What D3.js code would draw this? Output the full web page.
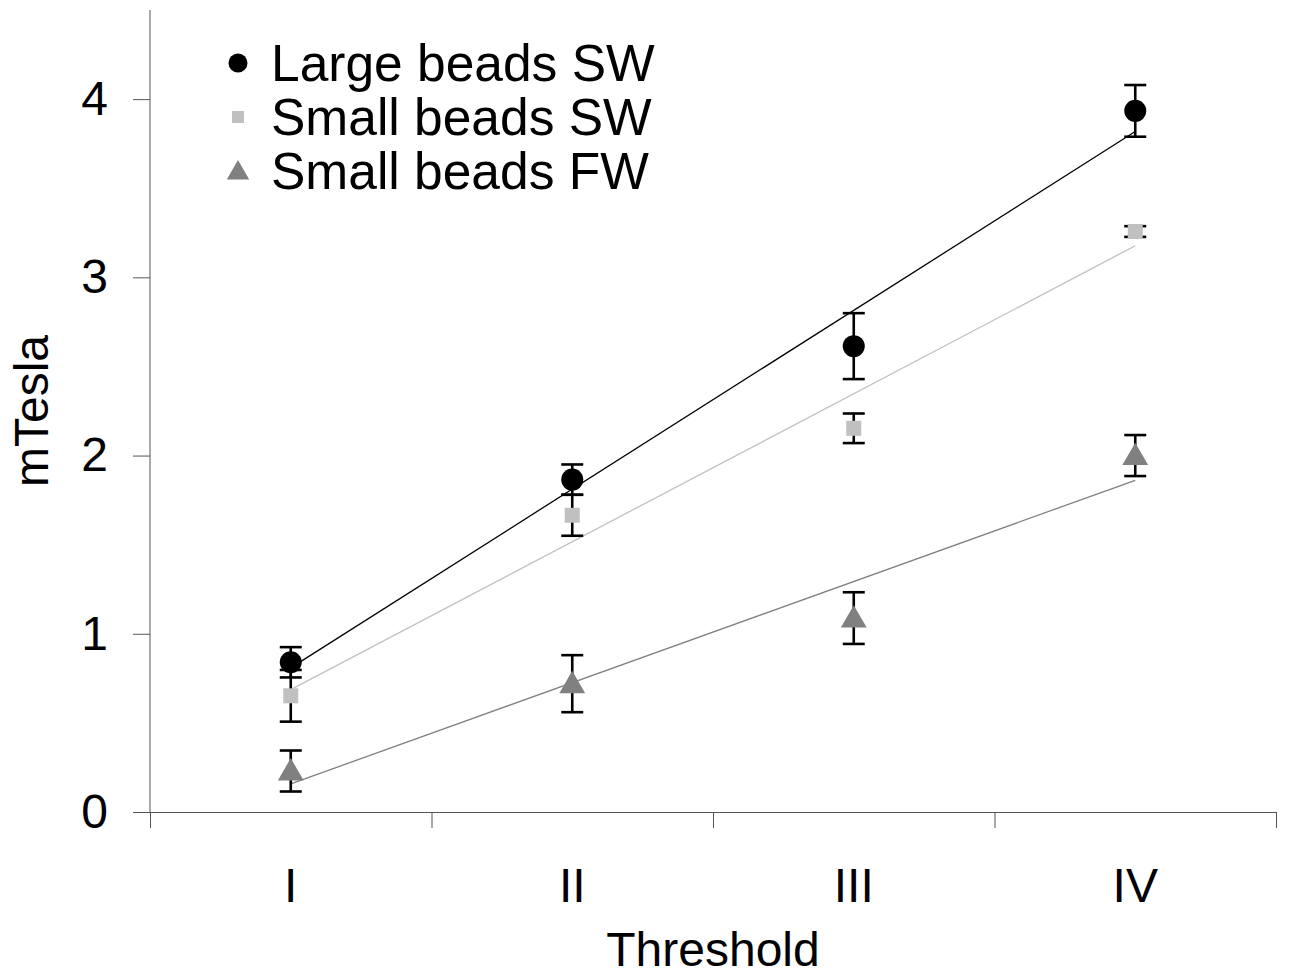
<!DOCTYPE html>
<html>
<head>
<meta charset="utf-8">
<script src="https://cdn.jsdelivr.net/npm/d3@7"></script>
<style>
  body { margin: 0; background: #fff; }
  text { font-family: "Liberation Sans", Arial, sans-serif; }
</style>
</head>
<body>
<div id="d3-container"></div>
<script>
// data
const thresholds = ["I", "II", "III", "IV"];
const seriesNames = ["Large beads SW", "Small beads SW", "Small beads FW"];
const largeSW = [0.84, 1.865, 2.614, 3.934];
const largeSWErr = [0.085, 0.085, 0.185, 0.145];
const smallSW = [0.652, 1.665, 2.153, 3.257];
const smallSWErr = [0.145, 0.115, 0.083, 0.03];
const smallFW = [0.23, 0.72, 1.088, 2.0];
const smallFWErr = [0.115, 0.16, 0.145, 0.115];
const yTicks = [0, 1, 2, 3, 4];

const width = 1290;
const height = 979;
const margin = { top: 10, bottom: 167, left: 150, right: 14 };

const series = [
  { name: seriesNames[0], values: largeSW, err: largeSWErr, shape: "circle", fill: "#000000", line: "#000000" },
  { name: seriesNames[1], values: smallSW, err: smallSWErr, shape: "square", fill: "#c0c0c0", line: "#c0c0c0" },
  { name: seriesNames[2], values: smallFW, err: smallFWErr, shape: "triangle", fill: "#808080", line: "#808080" }
];

const svg = d3.select('#d3-container')
  .append('svg')
  .attr('width', width)
  .attr('height', height)
  .attr("viewBox", [0, 0, width, height]);

const x = d3.scaleBand()
  .domain(thresholds)
  .range([margin.left, width - margin.right])
  .padding(0)

// edges of the categories, for the tick marks
const xEdge = d3.scaleLinear()
  .domain([0, thresholds.length])
  .range([margin.left, width - margin.right])

const y = d3.scaleLinear()
  .domain([0, 4.5])
  .range([height - margin.bottom, margin.top])

const cx = d => x(d) + x.bandwidth() / 2;

function symbolPath(shape, size) {
  if (shape === "circle") return d3.symbol(d3.symbolCircle, size)();
  if (shape === "square") return d3.symbol(d3.symbolSquare, size)();
  return d3.symbol(d3.symbolTriangle, size)();
}
const markSize = { circle: Math.PI * 11 * 11, square: 15 * 15, triangle: 24 * 24 * 0.5 };
const legendSize = { circle: Math.PI * 9.5 * 9.5, square: 12 * 12, triangle: 22 * 22 * 0.45 };

// axes
function yAxis(g) {
  g.attr("transform", `translate(${margin.left}, 0)`)
    .call(d3.axisLeft(y).tickValues(yTicks).tickFormat(d3.format("d")).tickSize(17).tickPadding(25).tickSizeOuter(0))
    .attr("font-size", '48px')
    .attr("font-family", null)
  g.select(".domain").attr("stroke", "#555").attr("d", `M0,${y(4.5)}V${y(0)}`)
  g.selectAll(".tick line").attr("stroke", "#555")
  g.selectAll(".tick text").attr("fill", "#000")
}

function xAxis(g) {
  g.attr("transform", `translate(0,${height - margin.bottom})`)
    .call(d3.axisBottom(xEdge).tickValues(d3.range(thresholds.length + 1)).tickSize(16).tickFormat("").tickSizeOuter(0))
  g.select(".domain").attr("stroke", "#555")
  g.selectAll(".tick line").attr("stroke", "#555")
}

function xLabels(g) {
  g.attr("transform", `translate(0,${height - margin.bottom})`)
    .call(d3.axisBottom(x).tickSize(0).tickPadding(56))
    .attr("font-size", '48px')
    .attr("font-family", null)
  g.select(".domain").remove()
  g.selectAll(".tick text").attr("fill", "#000")
}

svg.append("g").call(xAxis);
svg.append("g").call(yAxis);
svg.append("g").call(xLabels);

svg.append("text")
  .attr("x", 713)
  .attr("y", 966)
  .attr("text-anchor", "middle")
  .attr("font-size", "48px")
  .text("Threshold")

svg.append("text")
  .attr("transform", "translate(48,411) rotate(-90)")
  .attr("text-anchor", "middle")
  .attr("font-size", "48px")
  .text("mTesla")

// linear trend lines
series.forEach(s => {
  const xs = thresholds.map((t, i) => i + 1);
  const mx = d3.mean(xs), my = d3.mean(s.values);
  const slope = d3.sum(xs, (v, i) => (v - mx) * (s.values[i] - my)) / d3.sum(xs, v => (v - mx) * (v - mx));
  const fit = v => my + slope * (v - mx);
  svg.append("line")
    .attr("x1", cx(thresholds[0]))
    .attr("y1", y(fit(1)))
    .attr("x2", cx(thresholds[thresholds.length - 1]))
    .attr("y2", y(fit(thresholds.length)))
    .attr("stroke", s.line)
    .attr("stroke-width", 1.3)
})

// error bars
series.forEach(s => {
  const g = svg.append("g").attr("stroke", "#000").attr("stroke-width", 2.6);
  s.values.forEach((v, i) => {
    const px = cx(thresholds[i]);
    const top = y(v + s.err[i]), bot = y(v - s.err[i]);
    g.append("line").attr("x1", px).attr("x2", px).attr("y1", top).attr("y2", bot);
    g.append("line").attr("x1", px - 11).attr("x2", px + 11).attr("y1", top).attr("y2", top);
    g.append("line").attr("x1", px - 11).attr("x2", px + 11).attr("y1", bot).attr("y2", bot);
  })
})

// markers
series.forEach(s => {
  svg.append("g")
    .selectAll("path")
    .data(s.values)
    .join("path")
      .attr("d", symbolPath(s.shape, markSize[s.shape]))
      .attr("transform", (d, i) => `translate(${cx(thresholds[i])},${y(d) + (s.shape === "triangle" ? 2 : 0)})`)
      .attr("fill", s.fill)
})

// legend
const legend = svg.append("g").attr("transform", "translate(238,63)");
series.forEach((s, i) => {
  const row = legend.append("g").attr("transform", `translate(0,${i * 54})`);
  row.append("path")
    .attr("d", symbolPath(s.shape, legendSize[s.shape]))
    .attr("transform", `translate(0,${s.shape === "triangle" ? 2 : 0})`)
    .attr("fill", s.fill)
  row.append("text")
    .attr("x", 33)
    .attr("y", 18)
    .attr("font-size", "51.5px")
    .text(s.name)
})
</script>
</body>
</html>
